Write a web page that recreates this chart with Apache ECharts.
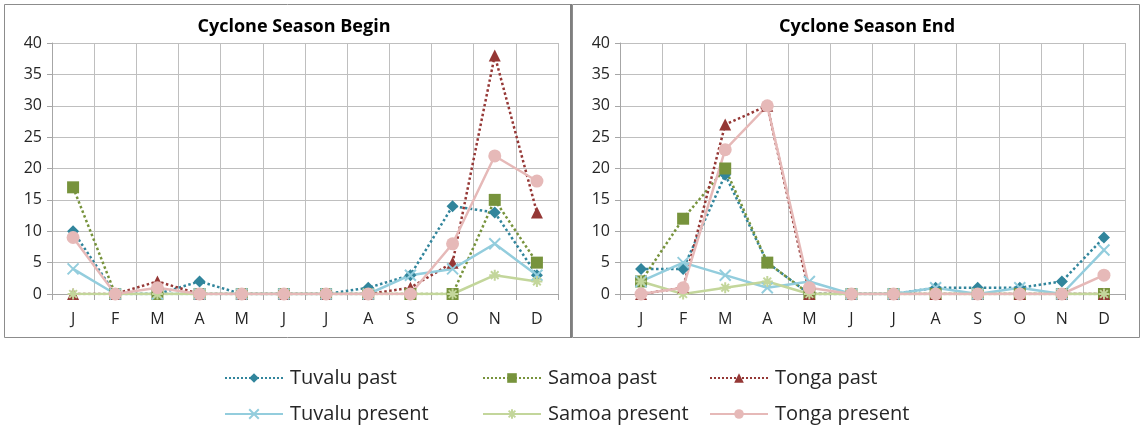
<!DOCTYPE html>
<html>
<head>
<meta charset="utf-8">
<script src="https://cdn.jsdelivr.net/npm/echarts@6/dist/echarts.min.js"></script>
<style>
  html, body { margin: 0; padding: 0; background: #fff; }
  #main { width: 1146px; height: 431px; }
</style>
</head>
<body>
<div id="main"></div>
<script>
var months = ["J", "F", "M", "A", "M", "J", "J", "A", "S", "O", "N", "D"];
var yTicks = [0, 5, 10, 15, 20, 25, 30, 35, 40];

// Cyclone season begin
var beginTuvaluPast = [10, 0, 0, 2, 0, 0, 0, 1, 3, 14, 13, 3];
var beginSamoaPast = [17, 0, 0, 0, 0, 0, 0, 0, 0, 0, 15, 5];
var beginTongaPast = [0, 0, 2, 0, 0, 0, 0, 0, 1, 5, 38, 13];
var beginTuvaluPresent = [4, 0, 0, 0, 0, 0, 0, 0, 3, 4, 8, 3];
var beginSamoaPresent = [0, 0, 0, 0, 0, 0, 0, 0, 0, 0, 3, 2];
var beginTongaPresent = [9, 0, 1, 0, 0, 0, 0, 0, 0, 8, 22, 18];

// Cyclone season end
var endTuvaluPast = [4, 4, 19, 5, 0, 0, 0, 1, 1, 1, 2, 9];
var endSamoaPast = [2, 12, 20, 5, 0, 0, 0, 0, 0, 0, 0, 0];
var endTongaPast = [0, 1, 27, 30, 0, 0, 0, 0, 0, 0, 0, 0];
var endTuvaluPresent = [2, 5, 3, 1, 2, 0, 0, 1, 0, 1, 0, 7];
var endSamoaPresent = [2, 0, 1, 2, 0, 0, 0, 0, 0, 0, 0, 0];
var endTongaPresent = [0, 1, 23, 30, 1, 0, 0, 0, 0, 0, 0, 3];

var FONT = "'Open Sans', 'Noto Sans', sans-serif";
var X_PATH = "path://M0,0 L10,10 M10,0 L0,10";
var STAR_PATH = "path://M5,0 L5,10 M0,5 L10,5 M1.5,1.5 L8.5,8.5 M8.5,1.5 L1.5,8.5";

// one entry per legend name: colour, marker, dash
var styles = {
  "Tuvalu past":    { color: "#31859C", symbol: "diamond", size: 12, type: "dotted" },
  "Samoa past":     { color: "#77933C", symbol: "rect", size: 12, type: "dotted" },
  "Tonga past":     { color: "#953735", symbol: "triangle", size: 12, type: "dotted" },
  "Tuvalu present": { color: "#93CDDD", symbol: X_PATH, size: 11, type: "solid", stroke: true },
  "Samoa present":  { color: "#C3D69B", symbol: STAR_PATH, size: 11, type: "solid", stroke: true },
  "Tonga present":  { color: "#E6B9B8", symbol: "circle", size: 13, type: "solid" }
};

function makeSeries(name, data, idx) {
  var s = styles[name];
  return {
    name: name,
    type: "line",
    xAxisIndex: idx,
    yAxisIndex: idx,
    data: data,
    symbol: s.symbol,
    symbolSize: s.size,
    showAllSymbol: true,
    lineStyle: { color: s.color, width: 2.5, type: s.type },
    itemStyle: s.stroke
      ? { color: s.color, borderColor: s.color, borderWidth: 2 }
      : { color: s.color },
    emphasis: { disabled: true },
    animation: false
  };
}

function xAxisFor(idx) {
  return {
    type: "category",
    gridIndex: idx,
    data: months,
    boundaryGap: true,
    axisLine: { lineStyle: { color: "#A6A6A6", width: 1 } },
    axisTick: { show: true, length: 6, lineStyle: { color: "#A6A6A6" } },
    splitLine: { show: true, lineStyle: { color: "#BFBFBF", width: 1 } },
    axisLabel: { color: "#262626", fontSize: 16, fontFamily: FONT, margin: 17 }
  };
}

function yAxisFor(idx) {
  return {
    type: "value",
    gridIndex: idx,
    min: yTicks[0],
    max: yTicks[yTicks.length - 1],
    interval: 5,
    axisLine: { show: true, lineStyle: { color: "#A6A6A6" } },
    axisTick: { show: true, length: 5, lineStyle: { color: "#A6A6A6" } },
    splitLine: { lineStyle: { color: "#BFBFBF", width: 1 } },
    axisLabel: { color: "#262626", fontSize: 16, fontFamily: FONT, margin: 10 }
  };
}

function legendAt(name, left, top) {
  return {
    data: [name],
    left: left,
    top: top,
    padding: 0,
    itemWidth: 58,
    itemHeight: 12,
    itemGap: 0,
    selectedMode: false,
    textStyle: { fontSize: 20, color: "#262626", fontFamily: FONT, padding: [0, 0, 0, 2] }
  };
}

var chart = echarts.init(document.getElementById("main"));
chart.setOption({
  animation: false,
  backgroundColor: "#fff",
  title: [
    { text: "Cyclone Season Begin", left: 289, top: 13, textAlign: "center",
      textStyle: { fontSize: 18, fontWeight: "bold", color: "#000", fontFamily: FONT } },
    { text: "Cyclone Season End", left: 862, top: 13, textAlign: "center",
      textStyle: { fontSize: 18, fontWeight: "bold", color: "#000", fontFamily: FONT } }
  ],
  graphic: [
    { type: "rect", shape: { x: 4.5, y: 4.5, width: 566, height: 333 },
      style: { fill: null, stroke: "#8C8C8C", lineWidth: 1 }, silent: true },
    { type: "rect", shape: { x: 572.5, y: 4.5, width: 567, height: 333 },
      style: { fill: null, stroke: "#8C8C8C", lineWidth: 1 }, silent: true },
    { type: "rect", shape: { x: 570, y: 4, width: 2, height: 334 },
      style: { fill: "#7F7F7F" }, silent: true }
  ],
  legend: [
    legendAt("Tuvalu past", 224, 368),
    legendAt("Samoa past", 482, 368),
    legendAt("Tonga past", 709, 368),
    legendAt("Tuvalu present", 224, 404),
    legendAt("Samoa present", 482, 404),
    legendAt("Tonga present", 709, 404)
  ],
  grid: [
    { left: 52, right: 588, top: 43, bottom: 137 },
    { left: 620, right: 21, top: 43, bottom: 137 }
  ],
  xAxis: [xAxisFor(0), xAxisFor(1)],
  yAxis: [yAxisFor(0), yAxisFor(1)],
  series: [
    makeSeries("Tuvalu past", beginTuvaluPast, 0),
    makeSeries("Samoa past", beginSamoaPast, 0),
    makeSeries("Tonga past", beginTongaPast, 0),
    makeSeries("Tuvalu present", beginTuvaluPresent, 0),
    makeSeries("Samoa present", beginSamoaPresent, 0),
    makeSeries("Tonga present", beginTongaPresent, 0),
    makeSeries("Tuvalu past", endTuvaluPast, 1),
    makeSeries("Samoa past", endSamoaPast, 1),
    makeSeries("Tonga past", endTongaPast, 1),
    makeSeries("Tuvalu present", endTuvaluPresent, 1),
    makeSeries("Samoa present", endSamoaPresent, 1),
    makeSeries("Tonga present", endTongaPresent, 1)
  ]
});
</script>
</body>
</html>
